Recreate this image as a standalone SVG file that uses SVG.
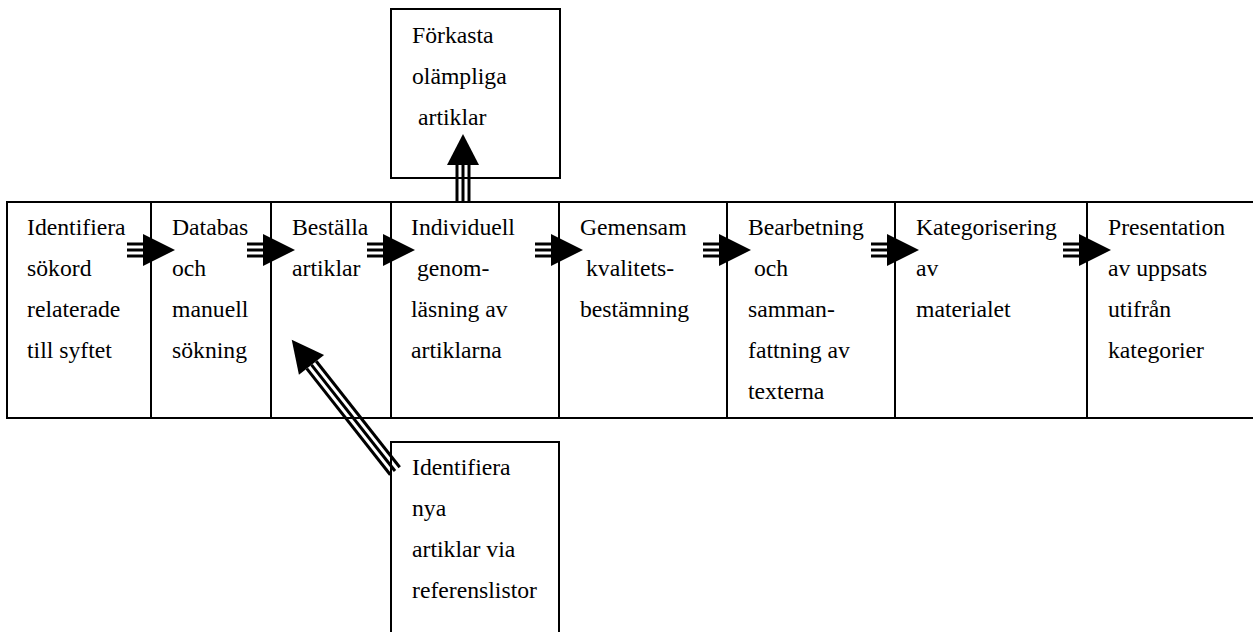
<svg xmlns="http://www.w3.org/2000/svg" width="1253" height="632" viewBox="0 0 1253 632">
<defs>
<g id="harrow" stroke="#000" stroke-width="3">
<line x1="-24" y1="-6" x2="-8" y2="-6"/>
<line x1="-24" y1="0" x2="-8" y2="0"/>
<line x1="-24" y1="6" x2="-8" y2="6"/>
<polygon points="-8,-16 24,0 -8,16" fill="#000" stroke="none"/>
</g>
</defs>
<rect width="1253" height="632" fill="#fff"/>
<g id="nodes" fill="#000">
<g id="n1">
<rect x="7" y="202" width="144" height="216" fill="none" stroke="#000" stroke-width="2"/>
<text x="27" y="235" font-family="Liberation Serif" font-size="23.7">Identifiera</text>
<text x="27" y="276" font-family="Liberation Serif" font-size="23.7">s&#246;kord</text>
<text x="27" y="317" font-family="Liberation Serif" font-size="23.7">relaterade</text>
<text x="27" y="358" font-family="Liberation Serif" font-size="23.7">till syftet</text>
</g>
<g id="n2">
<rect x="151" y="202" width="120" height="216" fill="none" stroke="#000" stroke-width="2"/>
<text x="172" y="235" font-family="Liberation Serif" font-size="23.7">Databas</text>
<text x="172" y="276" font-family="Liberation Serif" font-size="23.7">och</text>
<text x="172" y="317" font-family="Liberation Serif" font-size="23.7">manuell</text>
<text x="172" y="358" font-family="Liberation Serif" font-size="23.7">s&#246;kning</text>
</g>
<g id="n3">
<rect x="271" y="202" width="120" height="216" fill="none" stroke="#000" stroke-width="2"/>
<text x="292" y="235" font-family="Liberation Serif" font-size="23.7">Best&#228;lla</text>
<text x="292" y="276" font-family="Liberation Serif" font-size="23.7">artiklar</text>
</g>
<g id="n4">
<rect x="391" y="202" width="168" height="216" fill="none" stroke="#000" stroke-width="2"/>
<text x="411" y="235" font-family="Liberation Serif" font-size="23.7">Individuell</text>
<text x="417" y="276" font-family="Liberation Serif" font-size="23.7">genom-</text>
<text x="411" y="317" font-family="Liberation Serif" font-size="23.7">l&#228;sning av</text>
<text x="411" y="358" font-family="Liberation Serif" font-size="23.7">artiklarna</text>
</g>
<g id="n5">
<rect x="559" y="202" width="168" height="216" fill="none" stroke="#000" stroke-width="2"/>
<text x="580" y="235" font-family="Liberation Serif" font-size="23.7">Gemensam</text>
<text x="586" y="276" font-family="Liberation Serif" font-size="23.7">kvalitets-</text>
<text x="580" y="317" font-family="Liberation Serif" font-size="23.7">best&#228;mning</text>
</g>
<g id="n6">
<rect x="727" y="202" width="168" height="216" fill="none" stroke="#000" stroke-width="2"/>
<text x="748" y="235" font-family="Liberation Serif" font-size="23.7">Bearbetning</text>
<text x="754" y="276" font-family="Liberation Serif" font-size="23.7">och</text>
<text x="748" y="317" font-family="Liberation Serif" font-size="23.7">samman-</text>
<text x="748" y="358" font-family="Liberation Serif" font-size="23.7">fattning av</text>
<text x="748" y="399" font-family="Liberation Serif" font-size="23.7">texterna</text>
</g>
<g id="n7">
<rect x="895" y="202" width="192" height="216" fill="none" stroke="#000" stroke-width="2"/>
<text x="916" y="235" font-family="Liberation Serif" font-size="23.7">Kategorisering</text>
<text x="916" y="276" font-family="Liberation Serif" font-size="23.7">av</text>
<text x="916" y="317" font-family="Liberation Serif" font-size="23.7">materialet</text>
</g>
<g id="n8">
<rect x="1087" y="202" width="200" height="216" fill="none" stroke="#000" stroke-width="2"/>
<text x="1108" y="235" font-family="Liberation Serif" font-size="23.7">Presentation</text>
<text x="1108" y="276" font-family="Liberation Serif" font-size="23.7">av uppsats</text>
<text x="1108" y="317" font-family="Liberation Serif" font-size="23.7">utifr&#229;n</text>
<text x="1108" y="358" font-family="Liberation Serif" font-size="23.7">kategorier</text>
</g>
<g id="n9">
<rect x="391" y="9" width="169" height="169" fill="none" stroke="#000" stroke-width="2"/>
<text x="412" y="43" font-family="Liberation Serif" font-size="23.7">F&#246;rkasta</text>
<text x="412" y="84" font-family="Liberation Serif" font-size="23.7">ol&#228;mpliga</text>
<text x="418" y="125" font-family="Liberation Serif" font-size="23.7">artiklar</text>
</g>
<g id="n10">
<polyline points="391,640 391,442 559,442 559,640" fill="none" stroke="#000" stroke-width="2"/>
<text x="412" y="475" font-family="Liberation Serif" font-size="23.7">Identifiera</text>
<text x="412" y="516" font-family="Liberation Serif" font-size="23.7">nya</text>
<text x="412" y="557" font-family="Liberation Serif" font-size="23.7">artiklar via</text>
<text x="412" y="598" font-family="Liberation Serif" font-size="23.7">referenslistor</text>
</g>
</g>
<g id="connectors">
<use href="#harrow" transform="translate(151,250)"/>
<use href="#harrow" transform="translate(271,250)"/>
<use href="#harrow" transform="translate(391,250)"/>
<use href="#harrow" transform="translate(559,250)"/>
<use href="#harrow" transform="translate(727,250)"/>
<use href="#harrow" transform="translate(895,250)"/>
<use href="#harrow" transform="translate(1087,250)"/>
<g transform="translate(463,203) rotate(-90)" stroke="#000" stroke-width="3">
<line x1="0" y1="-6" x2="38" y2="-6"/>
<line x1="0" y1="0" x2="38" y2="0"/>
<line x1="0" y1="6" x2="38" y2="6"/>
<polygon points="38,-16 69,0 38,16" fill="#000" stroke="none"/>
</g>
<g transform="translate(395,471) rotate(-128.2)" stroke="#000" stroke-width="3">
<line x1="0" y1="-6" x2="135" y2="-6"/>
<line x1="0" y1="0" x2="135" y2="0"/>
<line x1="0" y1="6" x2="135" y2="6"/>
<polygon points="135,-16 167,0 135,16" fill="#000" stroke="none"/>
</g>
</g>
</svg>
